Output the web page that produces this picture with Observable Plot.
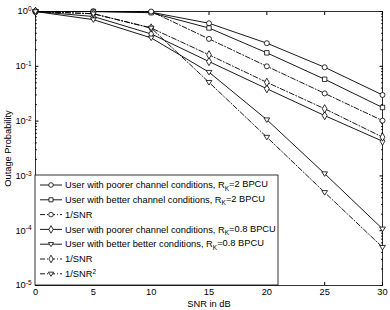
<!DOCTYPE html>
<html><head><meta charset="utf-8">
<script src="https://cdn.jsdelivr.net/npm/d3@7"></script>
<script src="https://cdn.jsdelivr.net/npm/@observablehq/plot@0.6"></script>
<style>
body{margin:0;background:#fff}
#chart svg{font-family:"Liberation Sans",Arial,Helvetica,sans-serif;background:#fff}
</style>
</head><body><div id="chart"></div>
<script>
// ---- data ----
const snr = [0, 5, 10, 15, 20, 25, 30];
const poorerR2  = [1, 1, 0.97, 0.61, 0.264, 0.096, 0.030];
const betterR2  = [1, 1, 0.95, 0.50, 0.176, 0.058, 0.0177];
const invSnrA   = [1, 1, 1, 0.316, 0.100, 0.032, 0.0102];
const poorerR08 = [1, 0.81, 0.39, 0.122, 0.039, 0.0126, 0.0043];
const betterR08 = [1, 0.71, 0.33, 0.078, 0.0106, 0.0011, 0.000108];
const invSnrB   = [1, 0.91, 0.50, 0.162, 0.051, 0.0168, 0.0051];
const invSnr2   = [1, 0.91, 0.50, 0.051, 0.0051, 0.0005, 0.00005];

const seriesValues = [poorerR2, betterR2, invSnrA, poorerR08, betterR08, invSnrB, invSnr2];
const seriesLabels = [
  ["User with poorer channel conditions, R", "K", "=2 BPCU"],
  ["User with better channel conditions, R", "K", "=2 BPCU"],
  ["1/SNR"],
  ["User with poorer channel conditions, R", "K", "=0.8 BPCU"],
  ["User with better better conditions, R", "K", "=0.8 BPCU"],
  ["1/SNR"],
  ["1/SNR", "2"]
];
const seriesMarker = ["circle", "square", "circle", "diamond", "triangleDown", "diamond", "triangleDown"];
const seriesStyle  = ["solid", "solid", "dashdot", "solid", "solid", "dashdot", "dashdot"];

const xTicks = [0, 5, 10, 15, 20, 25, 30];
const yMajor = [1, 1e-1, 1e-2, 1e-3, 1e-4, 1e-5];

// ---- helpers ----
const triDown = {
  draw(ctx, size) {
    const r = Math.sqrt(size / Math.PI) * 1.15;
    ctx.moveTo(-r, -r * 0.62);
    ctx.lineTo(r, -r * 0.62);
    ctx.lineTo(0, r * 0.95);
    ctx.closePath();
  }
};
const symbolOf = {circle: d3.symbolCircle, square: d3.symbolSquare, diamond: d3.symbolDiamond, triangleDown: triDown};
const dashOf = {solid: null, dashdot: "5,2,1,2"};
const yMinor = [];
for (let e = -5; e < 0; e++) for (let m = 2; m <= 9; m++) yMinor.push(m * Math.pow(10, e));

const rows = [];
seriesValues.forEach((vals, s) => vals.forEach((v, i) => rows.push({s, x: snr[i], y: v})));

const FS = 9.3;
const marks = [
  Plot.frame({stroke: "black", strokeWidth: 0.8}),
  Plot.axisX({anchor: "bottom", ticks: xTicks, tickSize: -3, tickPadding: 6, label: null, fontSize: FS}),
  Plot.axisX({anchor: "top", ticks: xTicks, tickSize: -3, tickFormat: () => "", label: null}),
  Plot.axisY({anchor: "left", ticks: yMajor, tickSize: -3.5, tickPadding: 7.5, label: null, fontSize: FS,
              tickFormat: d => "10^" + Math.round(Math.log10(d))}),
  Plot.axisY({anchor: "left", ticks: yMinor, tickSize: -1.8, tickFormat: () => "", label: null}),
  Plot.axisY({anchor: "right", ticks: yMajor, tickSize: -3.5, tickFormat: () => "", label: null}),
  Plot.axisY({anchor: "right", ticks: yMinor, tickSize: -1.8, tickFormat: () => "", label: null}),
  Plot.text(["Outage Probability"], {frameAnchor: "left", textAnchor: "middle", rotate: -90, dx: -27, fontSize: FS}),
  Plot.text(["SNR in dB"], {frameAnchor: "bottom", dy: 21, fontSize: FS})
];
seriesValues.forEach((vals, s) => {
  const d = rows.filter(r => r.s === s);
  marks.push(Plot.line(d, {x: "x", y: "y", stroke: "black", strokeWidth: 0.9,
    strokeDasharray: dashOf[seriesStyle[s]]}));
  marks.push(Plot.dot(d, {x: "x", y: "y", symbol: symbolOf[seriesMarker[s]], r: 2.5,
    fill: "white", stroke: "black", strokeWidth: 0.8}));
});

const plot = Plot.plot({
  width: 390, height: 310,
  marginLeft: 35, marginRight: 8, marginTop: 11, marginBottom: 25,
  style: {fontSize: FS + "px", fontFamily: "'Liberation Sans', Arial, sans-serif", background: "white"},
  x: {domain: [0, 30]},
  y: {type: "log", domain: [1e-5, 1]},
  marks
});
document.getElementById("chart").appendChild(plot);

// superscript exponents on y tick labels
const svg = d3.select(plot);
svg.selectAll('g[aria-label="y-axis tick label"] text').each(function() {
  const t = this.textContent;
  if (!t.startsWith("10^")) return;
  const exp = t.slice(3);
  const sel = d3.select(this);
  sel.text(null);
  sel.append("tspan").text("10");
  sel.append("tspan").attr("dy", "-0.5em").attr("font-size", "6.5px").text(exp);
});

// ---- legend box (inside the axes, lower-left) ----
const lx = 35, ly = 175, lw = 243, lh = 110, rowH = 14.8, row0 = 185;
const lg = svg.append("g").attr("font-size", FS + "px").attr("fill", "black").attr("text-anchor", "start");
lg.append("rect").attr("x", lx).attr("y", ly).attr("width", lw).attr("height", lh)
  .attr("fill", "white").attr("stroke", "black").attr("stroke-width", 0.8);
seriesLabels.forEach((lab, s) => {
  const cy = row0 + rowH * s;
  lg.append("line").attr("x1", 40).attr("x2", 62).attr("y1", cy).attr("y2", cy)
    .attr("stroke", "black").attr("stroke-width", 0.9)
    .attr("stroke-dasharray", dashOf[seriesStyle[s]]);
  lg.append("path").attr("transform", `translate(51,${cy})`)
    .attr("d", d3.symbol(symbolOf[seriesMarker[s]], Math.PI * 2.3 * 2.3)())
    .attr("fill", "white").attr("stroke", "black").attr("stroke-width", 0.8);
  const tx = lg.append("text").attr("x", 65).attr("y", cy).attr("dy", "0.35em").attr("text-anchor", "start");
  tx.append("tspan").text(lab[0]);
  if (lab.length === 3) {
    tx.append("tspan").attr("dy", "0.35em").attr("font-size", "6.5px").text(lab[1]);
    tx.append("tspan").attr("dy", "-0.35em").text(lab[2]);
  } else if (lab.length === 2) {
    tx.append("tspan").attr("dy", "-0.5em").attr("font-size", "6.5px").text(lab[1]);
  }
});
</script>
</body></html>
